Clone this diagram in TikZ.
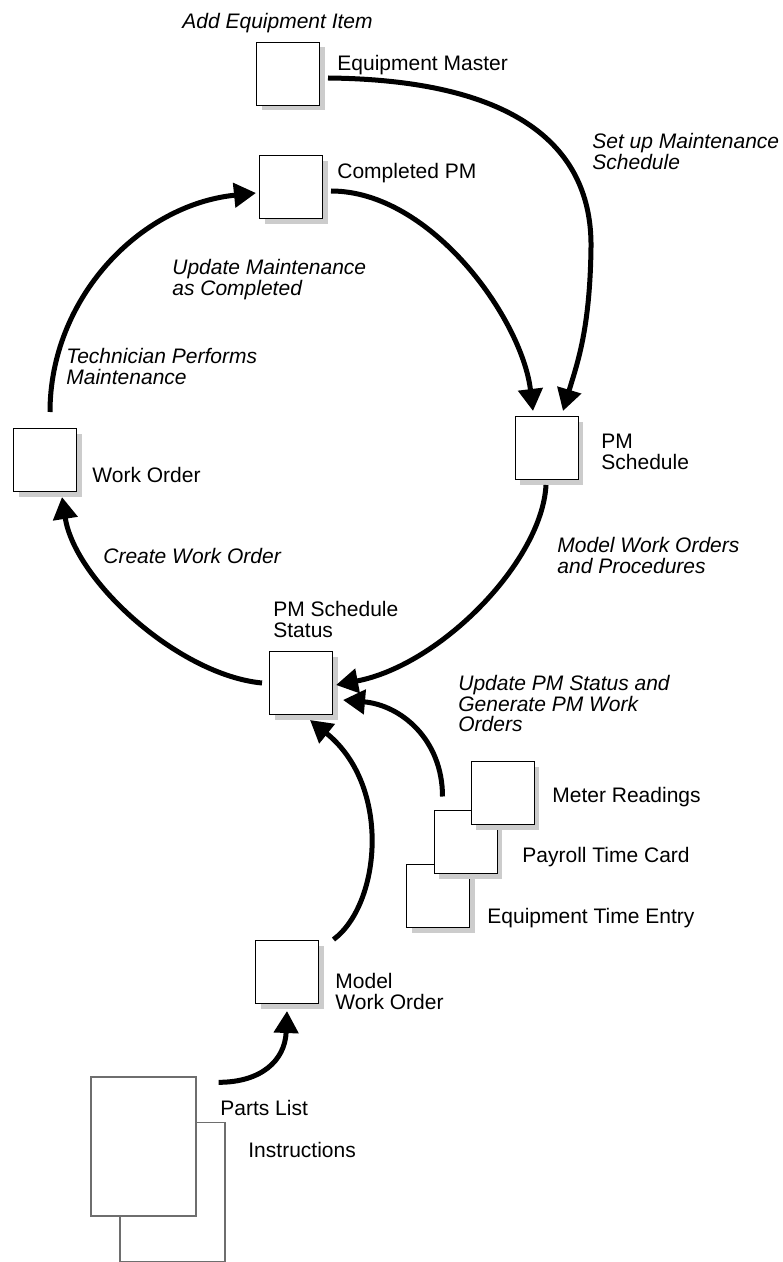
\documentclass[tikz,border=0pt]{standalone}
\usepackage{fontspec}
\setmainfont{Liberation Sans}
\usetikzlibrary{arrows.meta,calc,positioning,shadows}
\definecolor{ChartInk}{HTML}{000000}
\definecolor{ChartShade}{HTML}{CCCCCC}
\definecolor{ChartSheet}{HTML}{6E6E6E}
\tikzset{
  every node/.style={font=\fontsize{10.5}{10.3}\selectfont, text=ChartInk},
  record/.style={draw=ChartInk, line width=0.5pt, fill=white, minimum width=31.5pt, minimum height=31.5pt, inner sep=0pt,
    drop shadow={shadow xshift=2.5pt, shadow yshift=-2.5pt, fill=ChartShade, opacity=1}},
  sheet/.style={draw=ChartSheet, line width=0.7pt, fill=white, minimum width=52.5pt, minimum height=69.5pt, inner sep=0pt},
  caption/.style={anchor=north west, inner sep=0pt, align=left},
  action/.style={caption, font=\fontsize{10.5}{10.3}\selectfont\itshape},
  flow/.style={-{Triangle[length=11pt,width=12pt]}, draw=ChartInk, line width=2.5pt},
}
\begin{document}
\begin{tikzpicture}[x=0.5pt,y=-0.5pt]
  \useasboundingbox (0,0) rectangle (782,1262);
  % Records round the maintenance loop
  \node[record] (eqm) at (288,74) {};
  \node[record] (cpm) at (291,187.5) {};
  \node[record] (pms) at (546.5,448) {};
  \node[record] (wo) at (45,460) {};
  \node[record] (pss) at (301,683) {};
  % Time entry stack, back to front
  \node[record] (ete) at (438,896) {};
  \node[record] (ptc) at (465.5,842) {};
  \node[record] (mr) at (502.5,793) {};
  \node[record] (mwo) at (287,972) {};
  % Source documents
  \node[sheet] (ins) at (172.5,1192) {};
  \node[sheet] (pl) at (143.5,1146.5) {};
  % Labels
  \node[action] (addlbl) at (182,13) {Add Equipment Item};
  \node[caption] (eqmlbl) at (337,55) {Equipment Master};
  \node[action] (setlbl) at (592,133) {Set up Maintenance\\Schedule};
  \node[caption] (cpmlbl) at (337,163) {Completed PM};
  \node[action] (updlbl) at (172,259) {Update Maintenance\\as Completed};
  \node[action] (teclbl) at (66,348) {Technician Performs\\Maintenance};
  \node[caption] (pmslbl) at (601,434) {PM\\Schedule};
  \node[caption] (wolbl) at (92,467) {Work Order};
  \node[action] (crelbl) at (103,548) {Create Work Order};
  \node[action] (modlbl) at (557,537) {Model Work Orders\\and Procedures};
  \node[caption] (psslbl) at (273,601) {PM Schedule\\Status};
  \node[action] (genlbl) at (458,675) {Update PM Status and\\Generate PM Work\\Orders};
  \node[caption] (mrlbl) at (552,787) {Meter Readings};
  \node[caption] (ptclbl) at (522,847) {Payroll Time Card};
  \node[caption] (etelbl) at (487,908) {Equipment Time Entry};
  \node[caption] (mwolbl) at (335,973) {Model\\Work Order};
  \node[caption] (pllbl) at (220,1100) {Parts List};
  \node[caption] (inslbl) at (248,1142) {Instructions};
  % Flows
  \draw[flow] ($(eqm.east)+(8,4)$) .. controls +(193,2) and +(1,-97) .. (591,247)
    .. controls +(-1,83) and +(14,-47) .. ($(pms.north)+(16.5,-5)$);
  \draw[flow] ($(cpm.east)+(8,3.5)$) .. controls +(100,0) and +(-11,-92) .. ($(pms.north)+(-13.5,-5)$);
  \draw[flow] ($(wo.north)+(5,-16)$) .. controls +(0,-113) and +(-117,12) .. ($(cpm.west)+(-3,5.5)$);
  \draw[flow] ($(pms.south)+(-0.5,5)$) .. controls +(-4,76) and +(105,-20) .. ($(pss.east)+(3,2)$);
  \draw[flow] ($(pss.west)+(-7,0)$) .. controls +(-83,-8) and +(13,84) .. ($(wo.south)+(17,5)$);
  \draw[flow] ($(ptc.north west)+(9,-13.5)$) .. controls +(0,-57) and +(58,5) .. ($(pss.east)+(10,17)$);
  \draw[flow] ($(mwo.north east)+(14.5,-0.5)$) .. controls +(47,-35) and +(82,66) .. ($(pss.south)+(9,5)$);
  \draw[flow] ($(pl.north east)+(22,6)$) .. controls +(42,0) and +(-2,50) .. ($(mwo.south)+(0,7)$);
\end{tikzpicture}
\end{document}
